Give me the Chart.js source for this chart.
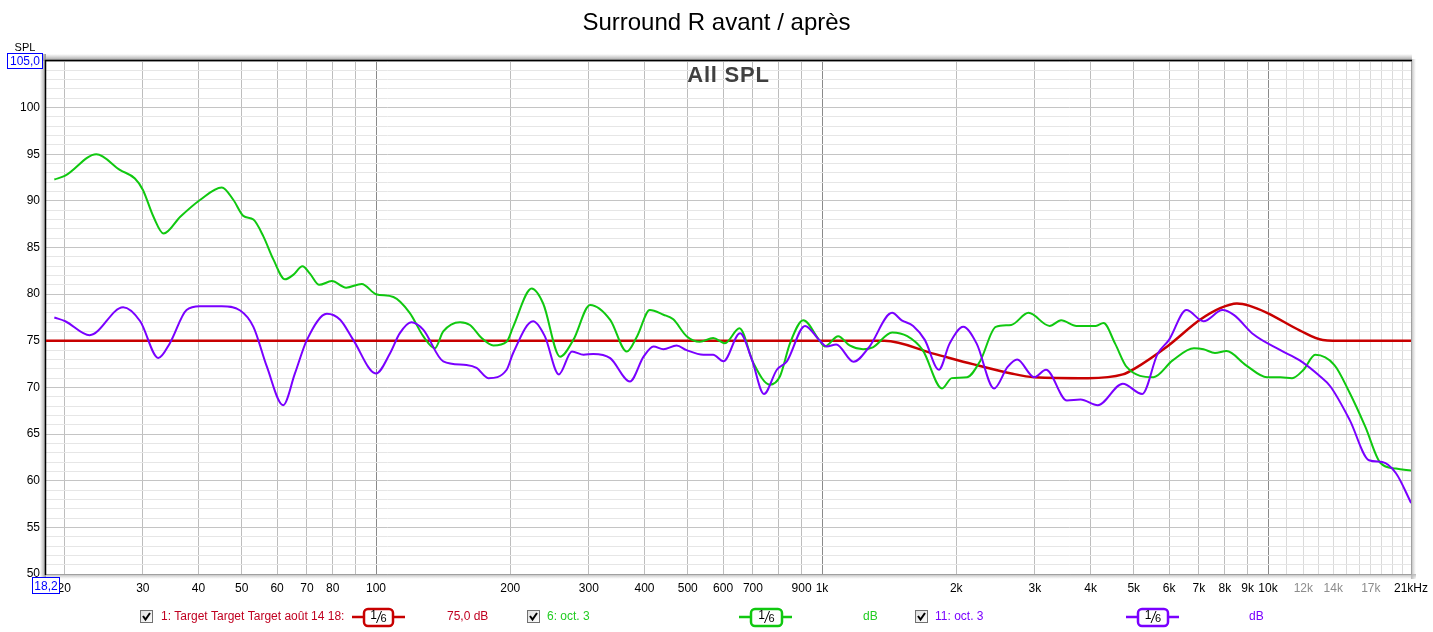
<!DOCTYPE html>
<html><head><meta charset="utf-8">
<script src="https://cdn.jsdelivr.net/npm/chart.js@4"></script>
<style>html,body{margin:0;padding:0;background:#fff;overflow:hidden}</style>
</head><body>
<canvas id="c" width="1433" height="632"></canvas>
<script>
const titleText = 'Surround R avant / après';
const subtitleText = 'All SPL';

const targetFreq = [18.2, 500, 1380, 1786, 2178, 2656, 2993, 3953, 4725, 5012, 5942, 7038, 7813, 8515, 9100, 9950, 11800, 13270, 15000, 20920];
const targetDb   = [75, 75, 75, 73.6, 72.5, 71.5, 71.1, 71.0, 71.4, 72.0, 74.4, 77.25, 78.5, 79.0, 78.75, 78.0, 76.1, 75.1, 75, 75];

const greenFreq = [19, 20.1, 23.6, 26.7, 28.8, 30.0, 31.7, 33.4, 36.4, 40.3, 45.1, 47.9, 50.4, 53.1, 55.9, 58.9, 62.5, 65.3, 68.4, 71.1, 74.6, 79.6, 85.7, 92.9, 100, 109.4, 119, 127.6, 135.5, 141.5, 154.3, 162.4, 172.5, 183.3, 196.3, 203, 223.4, 237, 258.6, 277, 302, 335, 365, 385, 411, 441, 464, 497, 532, 570, 606, 653, 702, 764, 805, 848, 908, 985, 1014, 1087, 1153, 1236, 1300, 1436, 1553, 1682, 1858, 1954, 2115, 2266, 2452, 2656, 2904, 3238, 3436, 3721, 4110, 4277, 4541, 4820, 5534, 6112, 6823, 7166, 7605, 8073, 8914, 9948, 10660, 11320, 12010, 12760, 14090, 15250, 16520, 17870, 19360, 20940];
const greenDb   = [92.3, 92.7, 95.0, 93.3, 92.4, 91.2, 88.3, 86.5, 88.3, 90.1, 91.45, 90.1, 88.4, 88.0, 86.2, 83.7, 81.6, 82.1, 83.0, 82.2, 81.0, 81.4, 80.7, 81.1, 80.0, 79.7, 78.0, 75.5, 74.2, 76.0, 77.0, 76.7, 75.3, 74.5, 74.9, 76.5, 80.6, 79.0, 73.3, 75.1, 78.85, 77.25, 73.85, 75.5, 78.3, 77.8, 77.3, 75.5, 74.9, 75.3, 74.75, 76.35, 72.6, 70.3, 71.2, 74.75, 77.2, 75.1, 74.4, 75.5, 74.5, 74.1, 74.3, 75.9, 75.5, 74.0, 69.9, 71.0, 71.1, 72.9, 76.5, 76.7, 78.0, 76.6, 77.2, 76.6, 76.6, 76.9, 74.7, 72.2, 71.1, 72.9, 74.2, 74.1, 73.7, 73.9, 72.4, 71.1, 71.1, 71.0, 71.9, 73.5, 72.4, 69.4, 65.8, 61.9, 61.3, 61.1];

const purpleFreq = [19, 20.1, 22.8, 27.1, 29.6, 32.5, 34.5, 37.6, 40.3, 45.1, 49.6, 53.1, 56.9, 61.9, 65.8, 70.0, 77.6, 83.1, 88.9, 100, 107.6, 113, 120, 127.6, 141.5, 159.5, 168, 178.6, 196.3, 203, 225, 239, 257, 275, 292, 307, 335, 371, 398, 419, 441, 472, 497, 542, 570, 601, 655, 696, 741, 792, 834, 916, 985, 1024, 1076, 1177, 1274, 1436, 1509, 1601, 1700, 1828, 1932, 2073, 2222, 2431, 2607, 2738, 2992, 3178, 3541, 3799, 4153, 4725, 5222, 5654, 5998, 6561, 7166, 7908, 8394, 9270, 10660, 11780, 13000, 13800, 15250, 16840, 18030, 19360, 20940];
const purpleDb   = [77.5, 77.1, 75.6, 78.6, 77.1, 73.15, 74.75, 78.3, 78.7, 78.7, 78.25, 76.5, 72.25, 68.1, 71.5, 75.1, 77.9, 77.25, 75.1, 71.5, 73.7, 75.8, 77.0, 76.2, 72.8, 72.4, 72.1, 71.0, 71.9, 73.7, 77.1, 75.5, 71.4, 73.85, 73.5, 73.6, 73.15, 70.65, 73.3, 74.4, 74.1, 74.5, 74.0, 73.5, 73.5, 72.8, 75.8, 73.0, 69.3, 71.9, 72.8, 76.6, 75.1, 74.4, 74.6, 72.75, 74.3, 78.0, 77.2, 76.6, 75.1, 71.9, 74.7, 76.5, 74.7, 69.9, 72.2, 73.0, 71.1, 71.9, 68.6, 68.7, 68.1, 70.4, 69.3, 73.6, 75.1, 78.3, 77.1, 78.3, 77.75, 75.7, 74.0, 72.9, 71.3, 70.1, 66.5, 62.2, 62.0, 60.8, 57.6];

const xTickValues = [20, 30, 40, 50, 60, 70, 80, 90, 100, 200, 300, 400, 500, 600, 700, 800, 900, 1000, 2000, 3000, 4000, 5000, 6000, 7000, 8000, 9000, 10000, 11000, 12000, 13000, 14000, 15000, 16000, 17000, 18000, 19000, 20000, 20920];
const xTickLabels = ['20', '30', '40', '50', '60', '70', '80', '', '100', '200', '300', '400', '500', '600', '700', '', '900', '1k', '2k', '3k', '4k', '5k', '6k', '7k', '8k', '9k', '10k', '', '12k', '', '14k', '', '', '17k', '', '', '', '21kHz'];
const xGreyLabels = ['12k', '14k', '17k'];
const yLabelValues = [50, 55, 60, 65, 70, 75, 80, 85, 90, 95, 100];

const FONT = '"Liberation Sans", Arial, sans-serif';
const RED = '#c80000', GREEN = '#10c810', PURPLE = '#7a00ff';

function pts(f, d) { return f.map((v, i) => ({ x: v, y: d[i] })); }

function checkbox(ctx, x, y) {
  const g = ctx.createLinearGradient(x, y, x + 13, y + 13);
  g.addColorStop(0, '#dcdcdc'); g.addColorStop(1, '#ffffff');
  ctx.fillStyle = g; ctx.fillRect(x, y, 13, 13);
  ctx.strokeStyle = '#707070'; ctx.lineWidth = 1; ctx.strokeRect(x + 0.5, y + 0.5, 12, 12);
  ctx.strokeStyle = '#000'; ctx.lineWidth = 2;
  ctx.beginPath(); ctx.moveTo(x + 3, y + 6); ctx.lineTo(x + 5.5, y + 9.5); ctx.lineTo(x + 10, y + 3); ctx.stroke();
}
function lineBox(ctx, x1, x2, b1, b2, y, color) {
  ctx.strokeStyle = color; ctx.lineWidth = 2.5;
  ctx.beginPath(); ctx.moveTo(x1, y); ctx.lineTo(x2, y); ctx.stroke();
  ctx.fillStyle = '#fff';
  ctx.beginPath(); ctx.roundRect(b1, y - 8, b2 - b1, 17, 4); ctx.fill(); ctx.stroke();
  const cx = (b1 + b2) / 2;
  ctx.fillStyle = '#000'; ctx.textBaseline = 'middle'; ctx.textAlign = 'center';
  ctx.font = '12px ' + FONT; ctx.fillText('1', cx - 5, y - 1);
  ctx.font = '11px ' + FONT; ctx.fillText('6', cx + 5, y + 2);
  ctx.strokeStyle = '#000'; ctx.lineWidth = 1;
  ctx.beginPath(); ctx.moveTo(cx + 3, y - 6); ctx.lineTo(cx - 2, y + 6); ctx.stroke();
}
function blueBox(ctx, x, y, w, h, text) {
  ctx.fillStyle = '#fff'; ctx.fillRect(x, y, w, h);
  ctx.strokeStyle = '#0000ff'; ctx.lineWidth = 1; ctx.strokeRect(x + 0.5, y + 0.5, w - 1, h - 1);
  ctx.fillStyle = '#0000ff'; ctx.font = '12px ' + FONT; ctx.textAlign = 'center'; ctx.textBaseline = 'middle';
  ctx.fillText(text, x + w / 2, y + h / 2 + 1);
}

const deco = {
  id: 'deco',
  beforeDraw(chart) {
    const ctx = chart.ctx; ctx.save(); ctx.fillStyle = '#fff'; ctx.fillRect(0, 0, chart.width, chart.height); ctx.restore();
  },
  beforeDatasetsDraw(chart) {
    const ctx = chart.ctx, a = chart.chartArea;
    ctx.save();
    let g = ctx.createLinearGradient(0, a.top - 7, 0, a.top);
    g.addColorStop(0, 'rgba(160,160,160,0)'); g.addColorStop(1, 'rgba(150,150,150,1)');
    ctx.fillStyle = g; ctx.fillRect(a.left - 6, a.top - 7, a.right - a.left + 7, 7);
    g = ctx.createLinearGradient(a.left - 6, 0, a.left, 0);
    g.addColorStop(0, 'rgba(160,160,160,0)'); g.addColorStop(1, 'rgba(150,150,150,1)');
    ctx.fillStyle = g; ctx.fillRect(a.left - 6, a.top - 7, 6, a.bottom - a.top + 12);
    g = ctx.createLinearGradient(0, a.bottom, 0, a.bottom + 5);
    g.addColorStop(0, 'rgba(180,180,180,1)'); g.addColorStop(1, 'rgba(200,200,200,0)');
    ctx.fillStyle = g; ctx.fillRect(a.left, a.bottom, a.right - a.left + 5, 5);
    g = ctx.createLinearGradient(a.right, 0, a.right + 5, 0);
    g.addColorStop(0, 'rgba(180,180,180,1)'); g.addColorStop(1, 'rgba(200,200,200,0)');
    ctx.fillStyle = g; ctx.fillRect(a.right, a.top - 2, 5, a.bottom - a.top + 7);
    ctx.strokeStyle = '#a0a0a0'; ctx.lineWidth = 1;
    ctx.beginPath(); ctx.moveTo(a.left, a.bottom + 0.5); ctx.lineTo(a.right + 0.5, a.bottom + 0.5); ctx.lineTo(a.right + 0.5, a.top); ctx.stroke();
    ctx.strokeStyle = '#000'; ctx.lineWidth = 1.5;
    ctx.beginPath(); ctx.moveTo(a.left - 0.5, a.bottom + 1); ctx.lineTo(a.left - 0.5, a.top - 0.5); ctx.lineTo(a.right + 1, a.top - 0.5); ctx.stroke();
    ctx.fillStyle = '#404040'; ctx.font = 'bold 22px ' + FONT; ctx.textAlign = 'center'; ctx.textBaseline = 'middle';
    try { ctx.letterSpacing = '0.8px'; } catch (e) {}
    ctx.fillText(subtitleText, (a.left + a.right) / 2, 76);
    try { ctx.letterSpacing = '0px'; } catch (e) {}
    ctx.restore();
  },
  afterDraw(chart) {
    const ctx = chart.ctx;
    ctx.save();
    ctx.fillStyle = '#000'; ctx.font = '24px ' + FONT; ctx.textAlign = 'center'; ctx.textBaseline = 'middle';
    ctx.fillText(titleText, chart.width / 2, 23);
    ctx.font = '11px ' + FONT; ctx.fillText('SPL', 25, 48);
    blueBox(ctx, 7, 53, 36, 16, '105,0');
    blueBox(ctx, 32, 577, 28, 17, '18,2');
    const y = 617;
    ctx.textAlign = 'left'; ctx.textBaseline = 'middle'; ctx.font = '12px ' + FONT;
    checkbox(ctx, 140, y - 7);
    ctx.fillStyle = '#c00020'; ctx.font = '12px ' + FONT; ctx.textAlign = 'left';
    ctx.fillText('1: Target Target Target août 14 18:', 161, y);
    lineBox(ctx, 352, 405, 364, 393, y, RED);
    ctx.fillStyle = '#c00020'; ctx.font = '12px ' + FONT; ctx.textAlign = 'left'; ctx.textBaseline = 'middle';
    ctx.fillText('75,0 dB', 447, y);
    checkbox(ctx, 527, y - 7);
    ctx.fillStyle = '#22cc22'; ctx.font = '12px ' + FONT; ctx.textAlign = 'left'; ctx.textBaseline = 'middle';
    ctx.fillText('6: oct. 3', 547, y);
    lineBox(ctx, 739, 792, 751, 782, y, GREEN);
    ctx.fillStyle = '#22cc22'; ctx.font = '12px ' + FONT; ctx.textAlign = 'left'; ctx.textBaseline = 'middle';
    ctx.fillText('dB', 863, y);
    checkbox(ctx, 915, y - 7);
    ctx.fillStyle = PURPLE; ctx.font = '12px ' + FONT; ctx.textAlign = 'left'; ctx.textBaseline = 'middle';
    ctx.fillText('11: oct. 3', 935, y);
    lineBox(ctx, 1126, 1179, 1138, 1168, y, PURPLE);
    ctx.fillStyle = PURPLE; ctx.font = '12px ' + FONT; ctx.textAlign = 'left'; ctx.textBaseline = 'middle';
    ctx.fillText('dB', 1249, y);
    ctx.restore();
  }
};

function xGridColor(v) {
  if (v === 100 || v === 1000 || v === 10000) return '#8a8a8a';
  if (v > 10000 && v < 20920) return '#dadada';
  if (v >= 20920) return 'rgba(0,0,0,0)';
  return '#bdbdbd';
}

new Chart(document.getElementById('c'), {
  type: 'line',
  data: {
    datasets: [
      { label: '11: oct. 3', data: pts(purpleFreq, purpleDb), borderColor: PURPLE, borderWidth: 2, pointRadius: 0, cubicInterpolationMode: 'monotone', fill: false },
      { label: '6: oct. 3', data: pts(greenFreq, greenDb), borderColor: GREEN, borderWidth: 2, pointRadius: 0, cubicInterpolationMode: 'monotone', fill: false },
      { label: '1: Target', data: pts(targetFreq, targetDb), borderColor: RED, borderWidth: 2.5, pointRadius: 0, cubicInterpolationMode: 'monotone', fill: false }
    ]
  },
  options: {
    responsive: false, animation: false, devicePixelRatio: 1,
    layout: { padding: { left: 0, right: 22, top: 61, bottom: 0 } },
    plugins: { legend: { display: false }, title: { display: false }, tooltip: { enabled: false } },
    scales: {
      x: {
        type: 'logarithmic', min: 18.2, max: 20920,
        afterBuildTicks: s => { s.ticks = xTickValues.map(v => ({ value: v })); },
        afterFit: s => { s.height = 58; s.paddingLeft = 0; s.paddingRight = 0; },
        border: { display: false },
        grid: { drawTicks: false, lineWidth: 1, color: c => xGridColor(c.tick ? c.tick.value : 0) },
        ticks: {
          autoSkip: false, maxRotation: 0, minRotation: 0, padding: 7,
          font: { family: FONT, size: 12 },
          color: c => xGreyLabels.includes(xTickLabels[c.index]) ? '#8c8c8c' : '#000',
          callback: (v, i) => xTickLabels[i]
        }
      },
      y: {
        type: 'linear', min: 50, max: 105,
        afterFit: s => { s.width = 46; s.paddingTop = 0; s.paddingBottom = 0; },
        border: { display: false },
        grid: { drawTicks: false, lineWidth: 1, color: c => (c.tick && c.tick.value % 5 === 0) ? '#c4c4c4' : '#e6e6e6' },
        ticks: {
          stepSize: 1, autoSkip: false, padding: 6,
          font: { family: FONT, size: 12 }, color: '#000',
          callback: v => yLabelValues.includes(v) ? String(v) : ''
        }
      }
    }
  },
  plugins: [deco]
});
</script>
</body></html>
